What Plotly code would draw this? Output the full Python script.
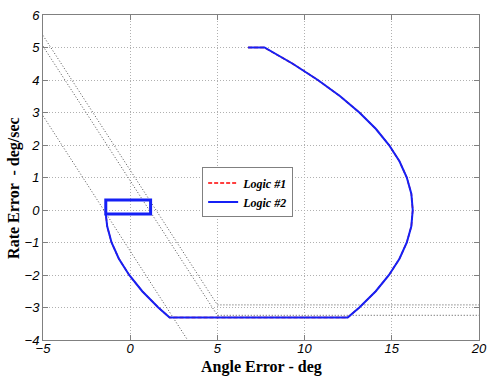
import plotly.graph_objects as go

# Phase-plane trajectory (angle error in deg, rate error in deg/sec)
traj_angle = [6.76, 7.70, 9.32, 10.76, 12.04, 13.14, 14.08, 14.84, 15.44, 15.86,
              16.12, 16.20, 16.12, 15.86, 15.44, 14.84, 14.08, 13.14, 12.47,
              2.26, 1.61, 0.69, -0.06, -0.65, -1.07, -1.32, -1.40]
traj_rate = [5.0, 5.0, 4.5, 4.0, 3.5, 3.0, 2.5, 2.0, 1.5, 1.0,
             0.5, 0.0, -0.5, -1.0, -1.5, -2.0, -2.5, -3.0, -3.31,
             -3.31, -3.0, -2.5, -2.0, -1.5, -1.0, -0.5, -0.12]

# Limit cycle around the origin
cycle_angle = [-1.40, -1.40, 1.17, 1.17, -1.40, -1.40]
cycle_rate = [-0.12, 0.31, 0.31, -0.12, -0.12, 0.31]

# Switching lines (angle, rate)
sw1_angle = [-5.0, 5.0, 20.0]
sw1_rate = [5.37, -2.92, -2.92]
sw2_angle = [-5.0, 5.0, 20.0]
sw2_rate = [5.04, -3.24, -3.24]
sw3_angle = [-5.0, 3.29]
sw3_rate = [2.90, -4.0]

x_ticks = [-5, 0, 5, 10, 15, 20]
y_ticks = [-4, -3, -2, -1, 0, 1, 2, 3, 4, 5, 6]

BLUE = "#1520f5"

fig = go.Figure()

dot_style = dict(color="#505050", width=1, dash="1px,2px")
for xa, ya in [(sw1_angle, sw1_rate), (sw2_angle, sw2_rate), (sw3_angle, sw3_rate)]:
    fig.add_trace(go.Scatter(x=xa, y=ya, mode="lines", line=dot_style,
                             showlegend=False, hoverinfo="skip"))

fig.add_trace(go.Scatter(x=traj_angle + cycle_angle, y=traj_rate + cycle_rate,
                         mode="lines", name="Logic #1",
                         line=dict(color="red", width=1.5, dash="4px,2px")))
fig.add_trace(go.Scatter(x=traj_angle, y=traj_rate, mode="lines", name="Logic #2",
                         line=dict(color=BLUE, width=2)))
fig.add_trace(go.Scatter(x=cycle_angle, y=cycle_rate, mode="lines", showlegend=False,
                         line=dict(color=BLUE, width=3)))

axis_common = dict(
    showgrid=True, gridcolor="#b0b0b0", griddash="1px,2px", gridwidth=1,
    showline=True, linecolor="#808080", linewidth=1, mirror="ticks",
    ticks="inside", ticklen=5, tickcolor="#808080", zeroline=False,
    tickfont=dict(family="Liberation Sans, Arial", size=13, style="italic", color="black"),
)

fig.update_xaxes(range=[-5, 20], tickvals=x_ticks, ticklabelstandoff=-4, **axis_common)
fig.update_yaxes(range=[-4, 6], tickvals=y_ticks, **axis_common)

fig.add_annotation(text="<b>Angle Error - deg</b>", xref="paper", yref="paper",
                   x=0.5, y=-0.082, xanchor="center", yanchor="middle", showarrow=False,
                   font=dict(family="Liberation Serif, Times New Roman", size=16, color="black"))
fig.add_annotation(text="<b>Rate Error  - deg/sec</b>", xref="paper", yref="paper",
                   x=-0.065, y=0.467, xanchor="center", yanchor="middle", showarrow=False,
                   textangle=-90,
                   font=dict(family="Liberation Serif, Times New Roman", size=16, color="black"))

fig.update_layout(
    width=495, height=377,
    margin=dict(l=43, r=8, t=11, b=37),
    paper_bgcolor="white", plot_bgcolor="white",
    legend=dict(x=0.365, y=0.531, xanchor="left", yanchor="top",
                bgcolor="white", bordercolor="#808080", borderwidth=1,
                font=dict(family="Liberation Serif, Times New Roman", size=12,
                          style="italic", weight="bold", color="black"),
                itemwidth=30, tracegroupgap=0),
    showlegend=True,
)

fig.write_html("out.html")
